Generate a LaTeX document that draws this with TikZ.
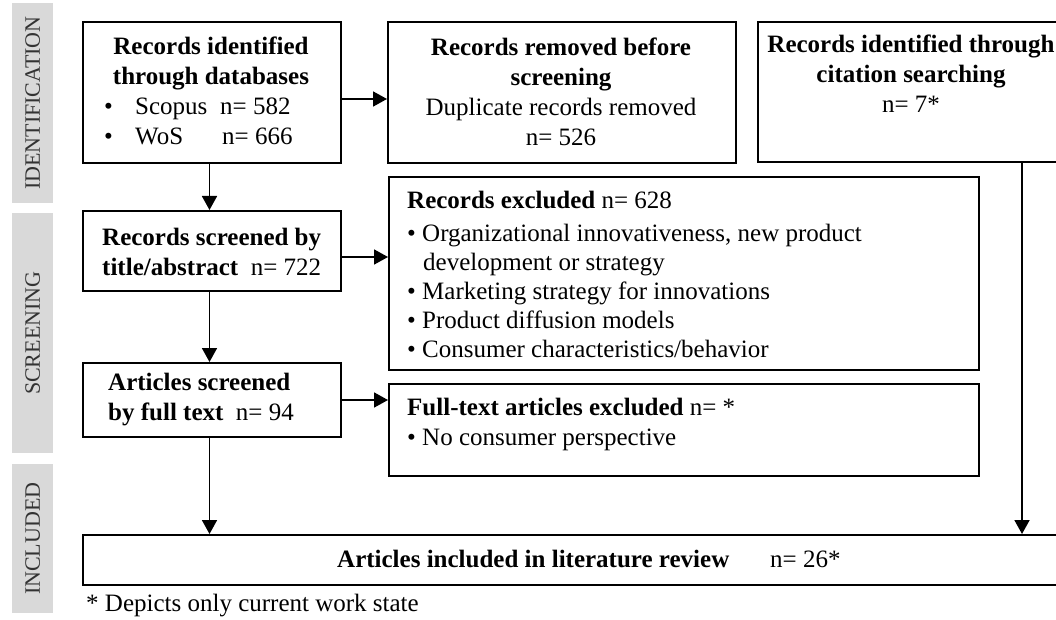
\documentclass[tikz,border=0pt]{standalone}
\usepackage{fontspec}
\setmainfont{Liberation Serif}
\usetikzlibrary{arrows.meta}
\definecolor{sidegray}{HTML}{D9D9D9}
\definecolor{sidetext}{HTML}{333333}
\tikzset{
  box/.style={draw=black, line width=2pt, rectangle, inner sep=0pt, anchor=north west},
  txt/.style={inner sep=0pt, font=\fontsize{25pt}{30pt}\selectfont},
  arr/.style={line width=1.8pt, -{Triangle[length=14pt,width=15pt]}},
  side/.style={fill=sidegray, draw=none, rectangle, inner sep=0pt, anchor=north west},
  sidelabel/.style={rotate=90, inner sep=0pt, text=sidetext, font=\fontsize{22pt}{26pt}\selectfont}
}
\begin{document}
\begin{tikzpicture}[x=1pt,y=-1pt]
\useasboundingbox (0,0) rectangle (1056,620);
\clip (0,0) rectangle (1056,620);
\fill[white] (0,0) rectangle (1056,620);

% side bars
\node[side, minimum width=41pt, minimum height=200pt] (s1) at (12,3) {};
\node[sidelabel] (l1) at (s1.center) {IDENTIFICATION};
\node[side, minimum width=41pt, minimum height=240pt] (s2) at (12,213) {};
\node[sidelabel] (l2) at (s2.center) {SCREENING};
\node[side, minimum width=41pt, minimum height=149pt] (s3) at (12,464) {};
\node[sidelabel] (l3) at (s3.center) {INCLUDED};

% boxes
\node[box, minimum width=258pt, minimum height=141pt] (b1) at (82,21) {};
\node[box, minimum width=348pt, minimum height=141pt] (b2) at (387,21) {};
\node[box, minimum width=320pt, minimum height=140pt] (b3) at (757,21) {};
\node[box, minimum width=258pt, minimum height=80pt] (b4) at (82,210) {};
\node[box, minimum width=590pt, minimum height=193pt] (ex) at (388,176) {};
\node[box, minimum width=258pt, minimum height=74pt] (b5) at (82,362) {};
\node[box, minimum width=590pt, minimum height=92pt] (ft) at (388,383) {};
\node[box, minimum width=1000pt, minimum height=50pt] (fin) at (82,534) {};

% box 1 text
\node[txt, anchor=base] (t1a) at (211,55) {\textbf{Records identified}};
\node[txt, anchor=base] (t1b) at (211,85) {\textbf{through databases}};
\node[txt, anchor=base west] (t1c) at (104,115) {•};
\node[txt, anchor=base west] (t1d) at (135,115) {Scopus};
\node[txt, anchor=base west] (t1e) at (220,115) {n= 582};
\node[txt, anchor=base west] (t1f) at (104,145) {•};
\node[txt, anchor=base west] (t1g) at (135,145) {WoS};
\node[txt, anchor=base west] (t1h) at (222,145) {n= 666};

% box 2 text
\node[txt, anchor=base] (t2a) at (561,56) {\textbf{Records removed before}};
\node[txt, anchor=base] (t2b) at (561,86) {\textbf{screening}};
\node[txt, anchor=base] (t2c) at (561,116) {Duplicate records removed};
\node[txt, anchor=base] (t2d) at (561,146) {n= 526};

% box 3 text
\node[txt, anchor=base] (t3a) at (911,53) {\textbf{Records identified through}};
\node[txt, anchor=base] (t3b) at (911,83) {\textbf{citation searching}};
\node[txt, anchor=base] (t3c) at (911,113) {n= 7*};

% box 4 text
\node[txt, anchor=base west] (t4a) at (102,245) {\textbf{Records screened by}};
\node[txt, anchor=base west] (t4b) at (102,275) {\textbf{title/abstract}\enspace n= 722};

% excluded text
\node[txt, anchor=base west] (tea) at (407,208) {\textbf{Records excluded} n= 628};
\node[txt, anchor=base west] (teb) at (407,241) {• Organizational innovativeness, new product};
\node[txt, anchor=base west] (tec) at (423,270) {development or strategy};
\node[txt, anchor=base west] (ted) at (407,299) {• Marketing strategy for innovations};
\node[txt, anchor=base west] (tee) at (407,328) {• Product diffusion models};
\node[txt, anchor=base west] (tef) at (407,357) {• Consumer characteristics/behavior};

% box 5 text
\node[txt, anchor=base west] (t5a) at (108,390) {\textbf{Articles screened}};
\node[txt, anchor=base west] (t5b) at (108,420) {\textbf{by full text}\enspace n= 94};

% full text excluded
\node[txt, anchor=base west] (tfa) at (407,415) {\textbf{Full-text articles excluded} n= *};
\node[txt, anchor=base west] (tfb) at (407,445) {• No consumer perspective};

% final
\node[txt, anchor=base west] (tga) at (337,567) {\textbf{Articles included in literature review}};
\node[txt, anchor=base west] (tgb) at (770,567) {n= 26*};

% footnote
\node[txt, anchor=base west] (fn) at (86,611) {* Depicts only current work state};

% arrows
\draw[arr] ([yshift=-6.5pt]b1.east) -- ([yshift=-6.5pt]b2.west);
\draw[arr] ([xshift=-2.5pt]b1.south) -- ([xshift=-2.5pt]b4.north);
\draw[arr] ([yshift=-6pt]b4.east) -- ([yshift=-6pt]b4.east -| ex.west);
\draw[arr] ([xshift=-2.5pt]b4.south) -- ([xshift=-2.5pt]b5.north);
\draw[arr] (b5.east) -- (b5.east -| ft.west);
\draw[arr] ([xshift=-2.5pt]b5.south) -- ([xshift=-2.5pt]b5.south |- fin.north);
\draw[arr] ([xshift=265pt]b3.south west) coordinate (rt) -- (rt |- fin.north);
\end{tikzpicture}
\end{document}
